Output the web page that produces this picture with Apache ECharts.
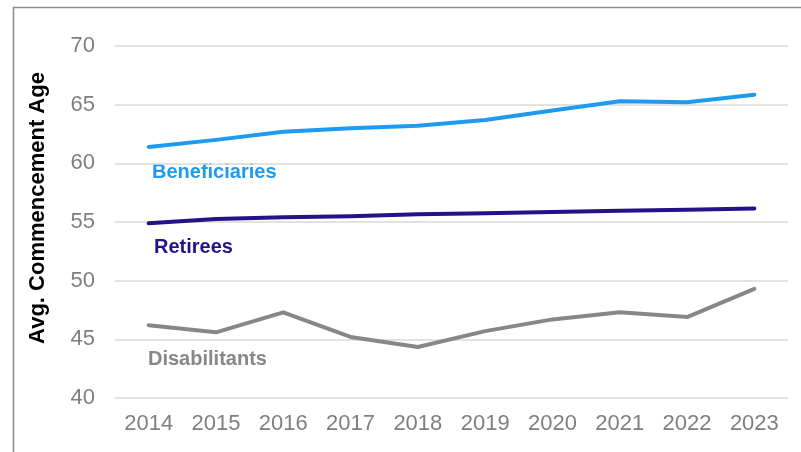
<!DOCTYPE html>
<html>
<head>
<meta charset="utf-8">
<script src="https://cdn.jsdelivr.net/npm/echarts@6/dist/echarts.min.js"></script>
<style>
  html, body { margin: 0; padding: 0; background: #fff; }
  #chart { width: 801px; height: 452px; }
</style>
</head>
<body>
<div id="chart"></div>
<script>
const years = ['2014', '2015', '2016', '2017', '2018', '2019', '2020', '2021', '2022', '2023']
const beneficiaries = [61.4, 62.0, 62.7, 63.0, 63.2, 63.7, 64.5, 65.3, 65.2, 65.85]
const retirees = [54.9, 55.25, 55.4, 55.5, 55.65, 55.75, 55.85, 55.95, 56.05, 56.15]
const disabilitants = [46.2, 45.6, 47.3, 45.2, 44.35, 45.7, 46.7, 47.3, 46.9, 49.3]
const yTicks = [40, 45, 50, 55, 60, 65, 70]

const chart = echarts.init(document.getElementById('chart'))
const font = '"Liberation Sans", Arial, sans-serif'

const lineSeries = (name, data, color) => ({
  name: name,
  type: 'line',
  data: data,
  symbol: 'none',
  lineStyle: { color: color, width: 4, cap: 'round', join: 'round' },
  animation: false,
})

// series names written inside the plot, under each line
const seriesLabel = (text, x, y, color) => ({
  type: 'text',
  x: x,
  y: y,
  style: {
    text: text,
    fill: color,
    verticalAlign: 'middle',
    font: 'bold 20px ' + font,
  },
})

chart.setOption({
  backgroundColor: '#fff',
  animation: false,
  grid: { left: 115, right: 13, top: 46, bottom: 54 },
  xAxis: {
    type: 'category',
    data: years,
    boundaryGap: true,
    axisLine: { show: false },
    axisTick: { show: false },
    axisLabel: { color: '#7f7f7f', fontSize: 22, fontFamily: font, margin: 15 },
  },
  yAxis: {
    type: 'value',
    min: yTicks[0],
    max: yTicks[yTicks.length - 1],
    interval: 5,
    axisLine: { show: false },
    axisTick: { show: false },
    axisLabel: { color: '#7f7f7f', fontSize: 22, fontFamily: font, margin: 20 },
    splitLine: { lineStyle: { color: '#d9d9d9', width: 1.5 } },
  },
  series: [
    lineSeries('Beneficiaries', beneficiaries, '#1e9bf0'),
    lineSeries('Retirees', retirees, '#26118a'),
    lineSeries('Disabilitants', disabilitants, '#878787'),
  ],
  graphic: [
    {
      type: 'polyline',
      shape: { points: [[13.5, 460], [13.5, 7.5], [810, 7.5]] },
      style: { stroke: '#8c8c8c', lineWidth: 1.5, fill: null },
    },
    {
      type: 'text',
      x: 38,
      y: 208,
      rotation: Math.PI / 2,
      style: {
        text: 'Avg. Commencement Age',
        fill: '#000',
        align: 'center',
        verticalAlign: 'middle',
        font: 'bold 22px ' + font,
      },
    },
    seriesLabel('Beneficiaries', 152, 172, '#1e9bf0'),
    seriesLabel('Retirees', 154, 247, '#26118a'),
    seriesLabel('Disabilitants', 148, 359, '#878787'),
  ],
})
</script>
</body>
</html>
